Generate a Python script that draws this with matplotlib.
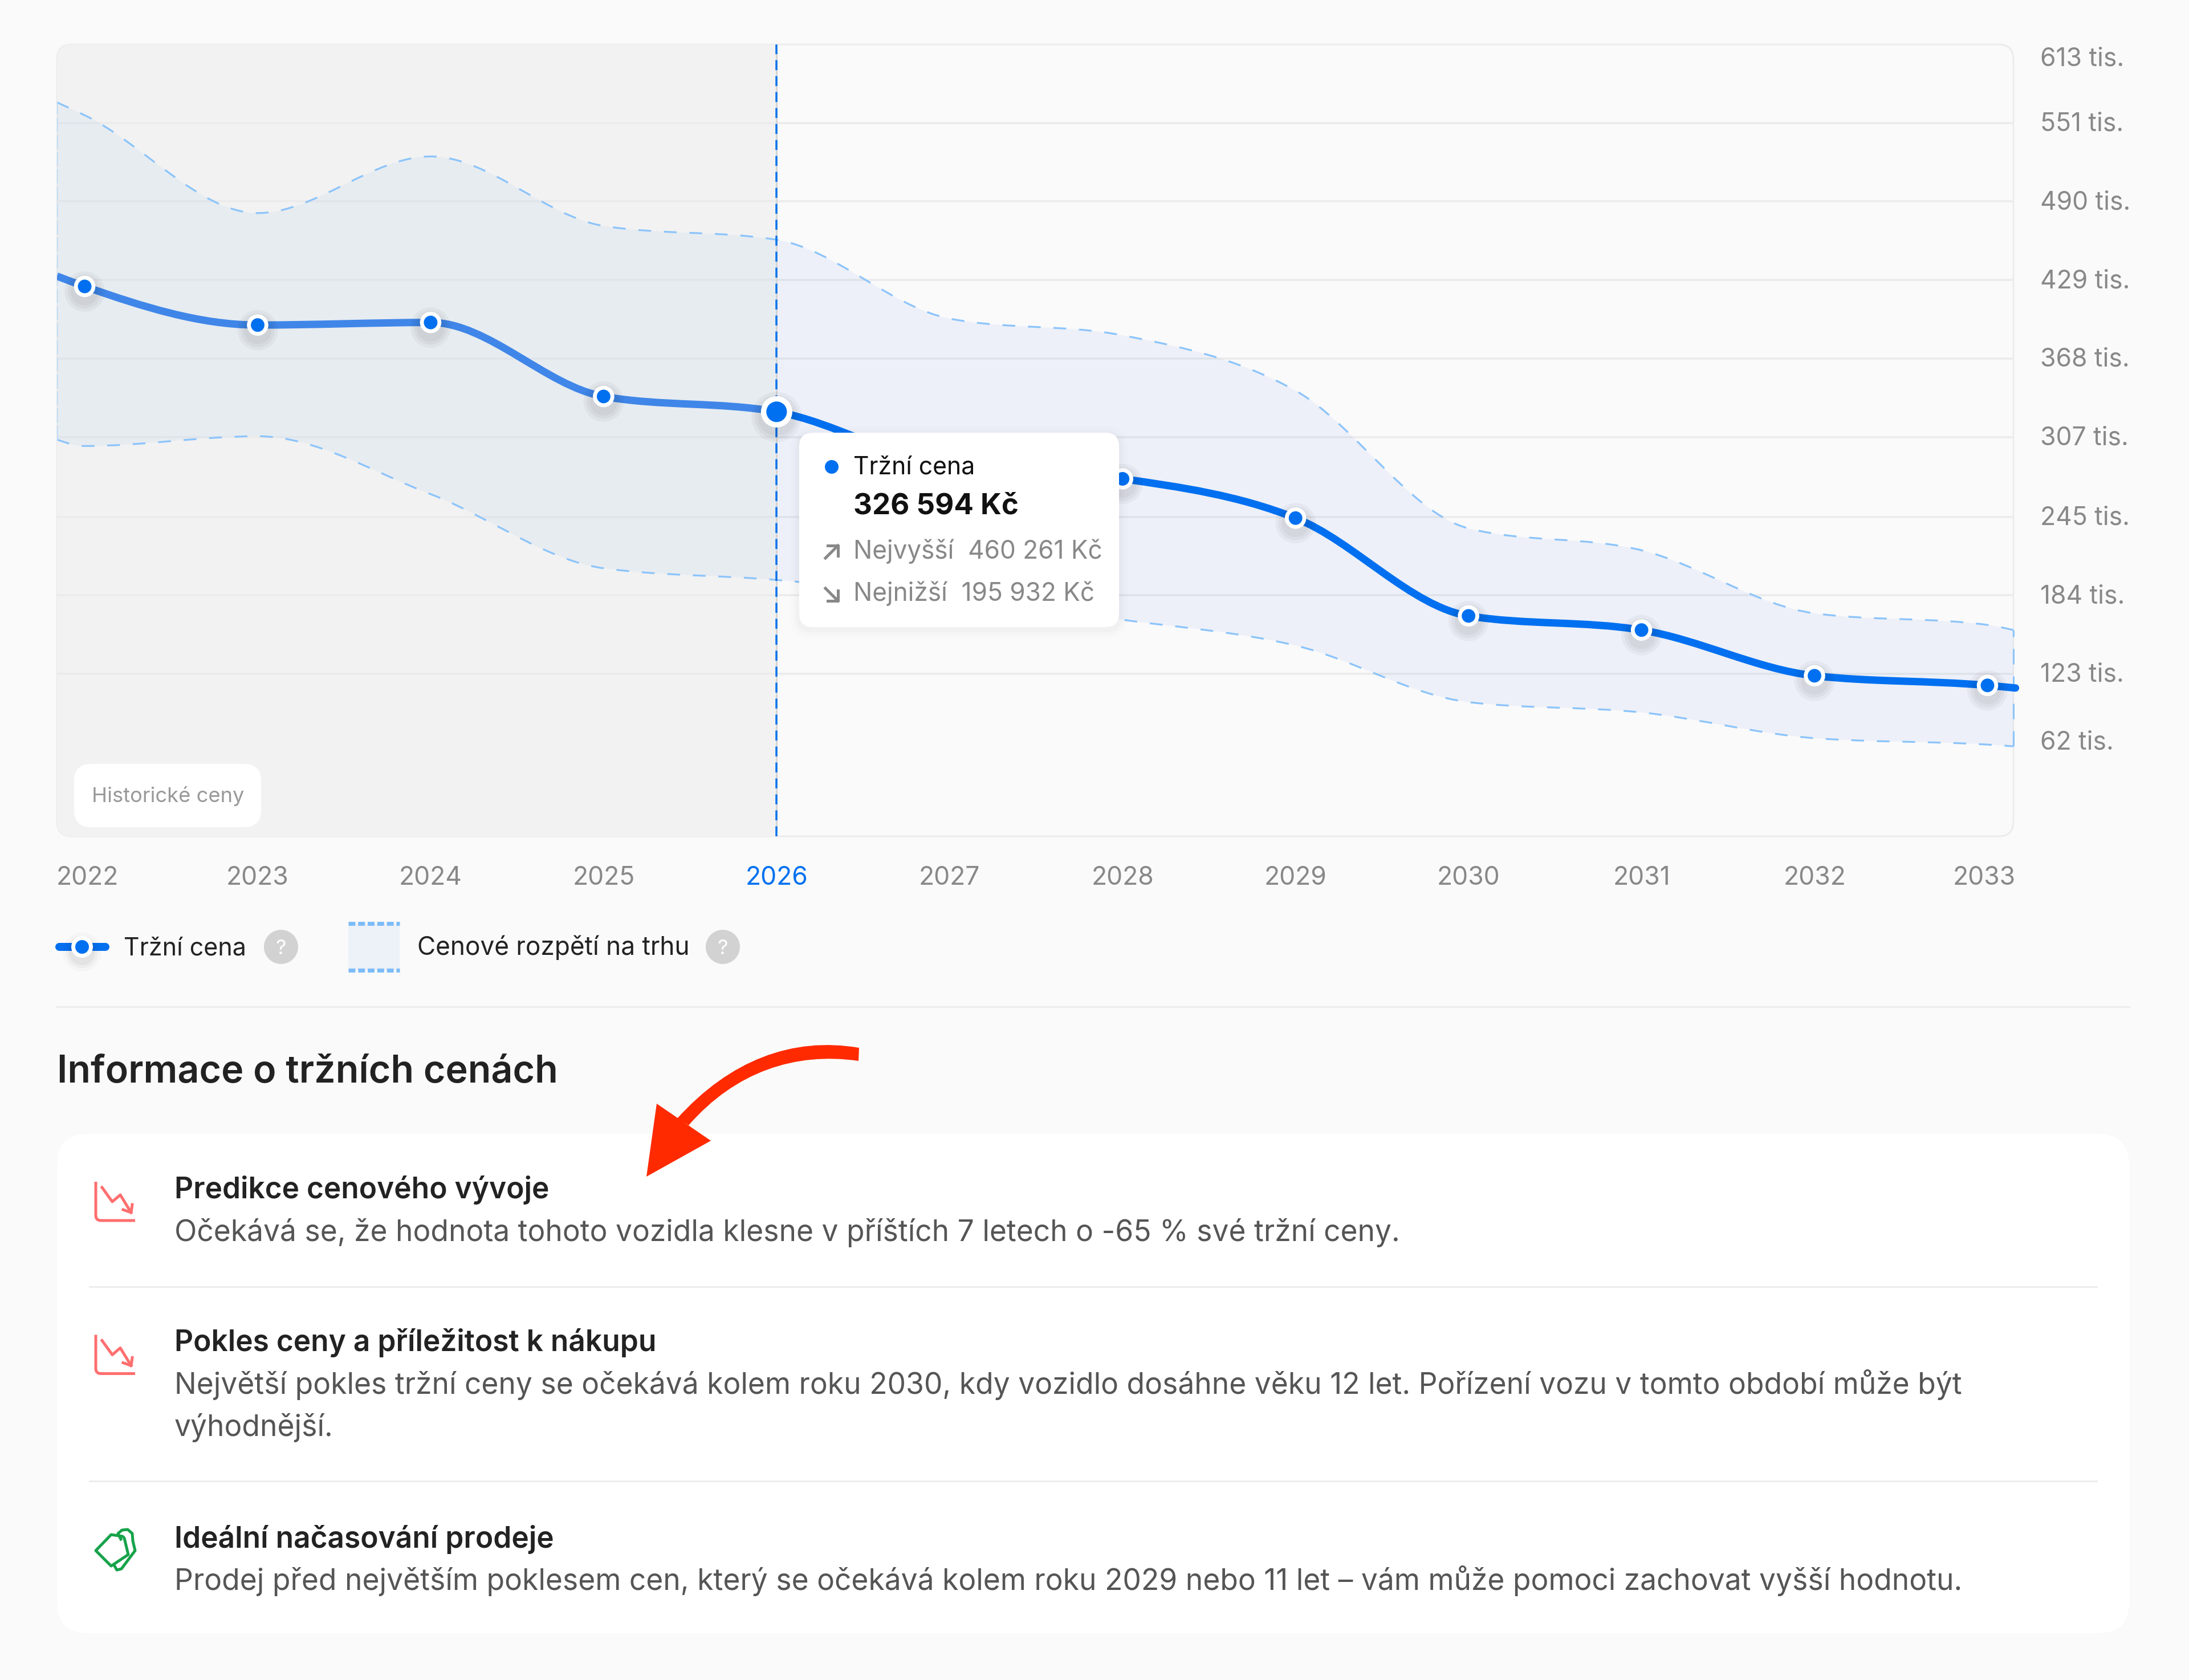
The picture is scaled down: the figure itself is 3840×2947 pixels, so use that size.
import numpy as np
import matplotlib
matplotlib.use('Agg')
import matplotlib.pyplot as plt
from matplotlib.path import Path
from matplotlib.patches import PathPatch, FancyBboxPatch, Circle, Rectangle, Polygon
from matplotlib.transforms import offset_copy

plt.rcParams['font.family'] = ['Inter', 'DejaVu Sans']

# hodnoty v tisicich Kc
years = [2022, 2023, 2024, 2025, 2026, 2027, 2028, 2029, 2030, 2031, 2032, 2033]
price = [424, 394, 396, 338.5, 326.594, 284, 274.5, 244, 168, 157, 121.5, 114]
upper = [557, 481, 525, 471, 460.261, 399, 386, 343, 236, 219, 170, 161]
lower = [300, 307.6, 262.6, 205, 195.932, 182, 165, 145, 101, 93, 73, 68]
x_left = 2021.84
x_right = 2033.15
price_edges = [432, 112]
upper_edges = [567, 157]
lower_edges = [305, 66.7]

grid_values = [551, 490, 429, 368, 307, 245, 184, 123]
y_values = [612, 551, 490, 429, 368, 307, 245, 184, 123, 62]
y_labels = ['613 tis.', '551 tis.', '490 tis.', '429 tis.', '368 tis.', '307 tis.',
            '245 tis.', '184 tis.', '123 tis.', '62 tis.']
y_nudge = [-37, -14, -14, -14, -14, -14, -14, -14, -14, 5]
x_nudge = [5, 0, 0, 0, 0, 0, 0, 0, 0, 0, 0, -6]
hist_year = 2026

W, H = 3840, 2947
BG = '#fafafa'
BLUE = '#0070f0'
BLUE_HIST = '#3f86e8'
DASH = '#8cc4fa'
GREY = '#888888'
DARK = '#222222'
BODY = '#555555'
RED_ICON = '#ff6f6f'
GREEN = '#16a34a'
SEMI = 600

# plocha grafu v pixelech
PL, PR, PT, PB = 100, 3532, 78, 1467


def px(n):
    return n * 72 / 200


def monotone_path(x, y):
    # stejne jako monotoneX krivka, segmenty jsou beziery
    x = np.asarray(x, float)
    y = np.asarray(y, float)
    h = np.diff(x)
    s = np.diff(y) / h
    m = np.zeros_like(y)
    for i in range(1, len(x) - 1):
        p = (s[i - 1] * h[i] + s[i] * h[i - 1]) / (h[i - 1] + h[i])
        m[i] = (np.sign(s[i - 1]) + np.sign(s[i])) * min(abs(s[i - 1]), abs(s[i]), 0.5 * abs(p))
    m[0] = (3 * s[0] - m[1]) / 2
    m[-1] = (3 * s[-1] - m[-2]) / 2
    verts = [(x[0], y[0])]
    for i in range(len(h)):
        verts.append((x[i] + h[i] / 3, y[i] + m[i] * h[i] / 3))
        verts.append((x[i + 1] - h[i] / 3, y[i + 1] - m[i + 1] * h[i] / 3))
        verts.append((x[i + 1], y[i + 1]))
    return verts


def curve(verts):
    return Path(verts, [Path.MOVETO] + [Path.CURVE4] * (len(verts) - 1))


def rbox(ax, x0, y0, x1, y1, r, **kw):
    p = FancyBboxPatch((x0, y0), x1 - x0, y1 - y0, boxstyle='round,pad=0,rounding_size=%g' % r, **kw)
    ax.add_patch(p)
    return p


def txt(ax, x, y, s, size=15, color=DARK, weight='normal', ha='left', **kw):
    return ax.text(x, y, s, fontsize=size, color=color, fontweight=weight, ha=ha, va='baseline', **kw)


fig = plt.figure(figsize=(W / 200, H / 200), dpi=200, facecolor=BG)

back = fig.add_axes([0, 0, 1, 1], zorder=0)
back.set_xlim(0, W)
back.set_ylim(H, 0)
back.axis('off')

front = fig.add_axes([0, 0, 1, 1], zorder=2)
front.set_xlim(0, W)
front.set_ylim(H, 0)
front.axis('off')
front.patch.set_alpha(0)

ax = fig.add_axes([PL / W, 1 - PB / H, (PR - PL) / W, (PB - PT) / H], zorder=1)
ax.set_xlim(x_left, x_right)
ax.set_ylim(-3.25, 612)
ax.axis('off')
ax.patch.set_alpha(0)

# ramecek a historicka cast
frame = rbox(back, PL, PT, PR, PB, 26, fc=BG, ec='#ebebeb', lw=1.0, zorder=1)
hist = ax.axvspan(x_left, hist_year, color='#f2f2f2', lw=0, zorder=1)
hist.set_clip_path(frame)

ax.hlines(grid_values, x_left, x_right, color='#ebebeb', lw=px(3.5), zorder=2)

# cenove rozpeti, v historii a v predikci ma jiny odstin
xs = [x_left] + years + [x_right]
up_y = [upper_edges[0]] + upper + [upper_edges[1]]
lo_y = [lower_edges[0]] + lower + [lower_edges[1]]
up_v = monotone_path(xs, up_y)
lo_v = monotone_path(xs, lo_y)
band_v = up_v + [lo_v[-1]] + lo_v[::-1][1:] + [lo_v[0]]
band_c = [Path.MOVETO] + [Path.CURVE4] * (len(up_v) - 1) + [Path.LINETO] + [Path.CURVE4] * (len(lo_v) - 1) + [Path.CLOSEPOLY]
band_hist = PathPatch(Path(band_v, band_c), fc=BLUE, alpha=0.042, lw=0, zorder=3)
band_pred = PathPatch(Path(band_v, band_c), fc='#0e56d6', alpha=0.055, lw=0, zorder=3)
ax.add_patch(band_hist)
ax.add_patch(band_pred)
band_hist.set_clip_path(Rectangle((x_left, -3.25), hist_year - x_left, 616, transform=ax.transData))
band_pred.set_clip_path(Rectangle((hist_year, -3.25), x_right - hist_year, 616, transform=ax.transData))
for v in (up_v, lo_v):
    ax.add_patch(PathPatch(curve(v), fc='none', ec=DASH, lw=px(3.2), ls=(0, (7, 7)), zorder=4))
ax.plot([x_left, x_left], [lower_edges[0], upper_edges[0]], color='#bcdcf8', lw=px(2.5), ls=(0, (10, 2)), zorder=4)
ax.plot([x_right, x_right], [lower_edges[1], upper_edges[1]], color=DASH, lw=px(3), ls=(0, (9, 7)), zorder=4, clip_on=False)

# svisla cara
ax.vlines(hist_year, -3.25, 612, color='#d4d4d4', lw=px(3), zorder=5)
ax.plot([hist_year, hist_year], [-3.25, 612], color='#0a72ea', lw=px(3.5), ls=(0, (5, 3)), zorder=5)

# trzni cena, historie je svetlejsi
px_x = [x_left] + years + [x_right + 0.012]
px_y = [price_edges[0]] + price + [price_edges[1]]
line_v = monotone_path(px_x, px_y)
split = 3 * (years.index(hist_year) + 1)
ax.add_patch(PathPatch(curve(line_v[:split + 1]), fc='none', ec=BLUE_HIST, lw=px(13), capstyle='butt', zorder=6))
ax.add_patch(PathPatch(curve(line_v[split:]), fc='none', ec=BLUE, lw=px(13), capstyle='round', zorder=6, clip_on=False))

# body se stinem
shadow_tr = offset_copy(ax.transData, fig=fig, x=0, y=-9, units='dots')
sizes = [np.where(np.array(years) == hist_year, 19.8, 13.5) + d for d in (12, 8, 4)]
for size in sizes:
    ax.scatter(years, price, s=size ** 2, color='black', alpha=0.035, lw=0, zorder=7, transform=shadow_tr)
is_hist = np.array(years) == hist_year
ax.scatter(years, price, s=np.where(is_hist, 19.8, 13.5) ** 2, color='white', lw=0, zorder=8)
ax.scatter(years, price, s=np.where(is_hist, 13, 8.6) ** 2, color=BLUE, lw=0, zorder=9)

# popisky os
for yr, lab_dx in zip(years, x_nudge):
    ax.annotate(str(yr), xy=(yr, 0), xycoords=ax.get_xaxis_transform(), xytext=(lab_dx, -85),
                textcoords='offset pixels', ha='center', va='baseline', fontsize=16,
                color=BLUE if yr == hist_year else GREY, annotation_clip=False)
for v, lab, dy in zip(y_values, y_labels, y_nudge):
    ax.annotate(lab, xy=(1, v), xycoords=ax.get_yaxis_transform(), xytext=(47, dy),
                textcoords='offset pixels', ha='left', va='baseline', fontsize=16,
                color=GREY, annotation_clip=False)

rbox(front, 130, 1340, 458, 1451, 30, fc='white', ec='none', zorder=2)
txt(front, 161, 1407, 'Historické ceny', size=13.1, color='#999999', zorder=3)

# tooltip
for grow, a in ((16, 0.008), (10, 0.01), (5, 0.014)):
    rbox(front, 1402 - grow, 759 - grow + 4, 1963 + grow, 1100 + grow + 4, 24 + grow, fc='black', ec='none', alpha=a, zorder=3)
rbox(front, 1402, 759, 1963, 1100, 24, fc='white', ec='none', zorder=4)
front.add_patch(Circle((1459, 819), 12, fc=BLUE, ec='none', zorder=5))
txt(front, 1497, 832, 'Tržní cena', size=15.4, color='#111111', zorder=5)
txt(front, 1497, 902, '326 594 Kč', size=18.4, color='#111111', weight='bold', zorder=5)
txt(front, 1497, 980, 'Nejvyšší  460 261 Kč', size=15.9, color=GREY, zorder=5)
txt(front, 1497, 1054, 'Nejnižší  195 932 Kč', size=15.9, color=GREY, zorder=5)
front.plot([1448, 1470], [979, 957], color=GREY, lw=px(5), zorder=5)
front.plot([1452, 1470, 1470], [957, 957, 975], color=GREY, lw=px(5), zorder=5)
front.plot([1448, 1470], [1032, 1054], color=GREY, lw=px(5), zorder=5)
front.plot([1452, 1470, 1470], [1054, 1054, 1036], color=GREY, lw=px(5), zorder=5)

# legenda
back.plot([104, 185], [1661, 1661], color=BLUE, lw=px(14), solid_capstyle='round', zorder=2)
for r, a in ((34, 0.02), (28, 0.03), (23, 0.04)):
    back.add_patch(Circle((144, 1670), r, fc='black', ec='none', alpha=a, zorder=2))
back.add_patch(Circle((144, 1661), 19, fc='white', ec='none', zorder=3))
back.add_patch(Circle((144, 1661), 12, fc=BLUE, ec='none', zorder=4))
txt(back, 217, 1675, 'Tržní cena', size=15.5, color=DARK)
back.add_patch(Rectangle((611, 1620), 90, 82, fc='#edf1f8', ec='none', zorder=2))
for yy in (1620, 1702):
    back.plot([611, 701], [yy, yy], color='#7cbcf8', lw=px(7), ls=(0, (1.7, 0.7)), zorder=3)
txt(back, 732, 1675, 'Cenové rozpětí na trhu', size=15.9, color=DARK)
for cx in (493, 1268):
    back.add_patch(Circle((cx, 1661), 30, fc='#d2d2d2', ec='none', zorder=2))
    back.text(cx, 1661, '?', fontsize=13, color='white', ha='center', va='center_baseline', zorder=3)

back.plot([100, 3735], [1766, 1766], color='#ececec', lw=px(3), zorder=1)
txt(back, 100, 1899, 'Informace o tržních cenách', size=23.9, color=DARK, weight=SEMI)

# karta s informacemi
rbox(back, 100, 1989, 3735, 2865, 55, fc='white', ec='none', zorder=1)
for yy in (2257, 2598):
    back.plot([157, 3678], [yy, yy], color='#ececec', lw=px(3), zorder=2)

rows = [
    (2102, 'Predikce cenového vývoje', ['Očekává se, že hodnota tohoto vozidla klesne v příštích 7 letech o -65 % své tržní ceny.']),
    (2370, 'Pokles ceny a příležitost k nákupu', ['Největší pokles tržní ceny se očekává kolem roku 2030, kdy vozidlo dosáhne věku 12 let. Pořízení vozu v tomto období může být', 'výhodnější.']),
    (2715, 'Ideální načasování prodeje', ['Prodej před největším poklesem cen, který se očekává kolem roku 2029 nebo 11 let – vám může pomoci zachovat vyšší hodnotu.']),
]
for base, title, body in rows:
    txt(back, 306, base, title, size=18.5, color=DARK, weight=SEMI, zorder=3)
    for i, line in enumerate(body):
        txt(back, 306, base + 74.5 * (i + 1), line, size=18.55, color=BODY, zorder=3)

# ikony
for off in (0, 268.5):
    ax_l = Path([(168, 2073 + off), (168, 2132 + off), (168, 2141 + off), (177, 2141 + off), (237, 2141 + off)],
                [Path.MOVETO, Path.LINETO, Path.CURVE3, Path.CURVE3, Path.LINETO])
    back.add_patch(PathPatch(ax_l, fc='none', ec=RED_ICON, lw=px(5), zorder=3))
    back.plot([179, 197, 211, 230], [2083 + off, 2108 + off, 2096 + off, 2127 + off], color=RED_ICON, lw=px(5), zorder=3)
    back.plot([232, 230, 216], [2113 + off, 2127 + off, 2122 + off], color=RED_ICON, lw=px(5), zorder=3)

back.add_patch(Polygon([(168, 2720), (195, 2692), (215, 2695), (218, 2698), (225, 2727), (195, 2747)],
                       closed=True, fc='none', ec=GREEN, lw=px(5), joinstyle='round', zorder=3))
back.plot([212, 207, 214, 224, 232, 233, 237, 213, 205, 201],
          [2700, 2690, 2684, 2683, 2690, 2703, 2720, 2752, 2754, 2747],
          color=GREEN, lw=px(5), solid_joinstyle='round', zorder=3)

# cervena sipka
stem = Path([(1507, 1838), (1390, 1818), (1280, 1860), (1188, 1962), (1208, 1974),
             (1290, 1880), (1395, 1845), (1506, 1861), (1507, 1838)],
            [Path.MOVETO, Path.CURVE4, Path.CURVE4, Path.CURVE4, Path.LINETO,
             Path.CURVE4, Path.CURVE4, Path.CURVE4, Path.CLOSEPOLY])
front.add_patch(PathPatch(stem, fc='#ff2a00', ec='none', zorder=6))
front.add_patch(Polygon([(1152, 1936), (1247, 2001), (1134, 2064)], closed=True, fc='#ff2a00', ec='none', zorder=6))

fig.savefig('out.png', dpi=200, facecolor=BG)
